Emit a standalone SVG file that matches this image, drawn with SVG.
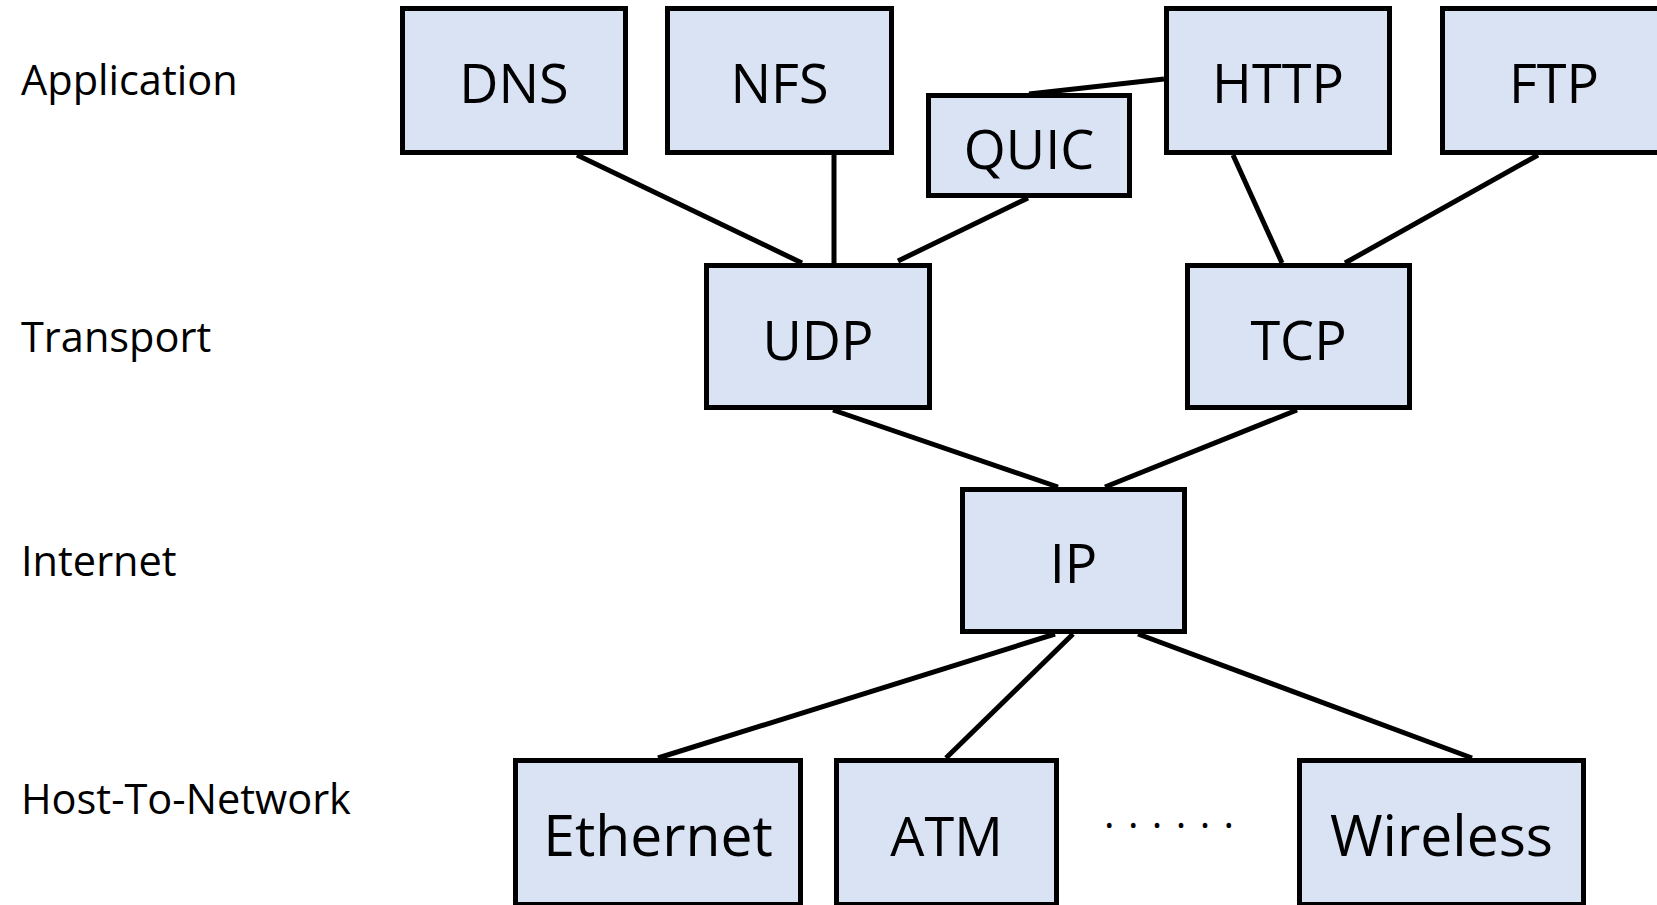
<svg xmlns="http://www.w3.org/2000/svg" width="1657" height="905" viewBox="0 0 1657 905">
<style>
.box{fill:#DAE3F3;stroke:#000;stroke-width:5}
.lbl{font-family:"Open Sans","Noto Sans",sans-serif;font-size:54px;fill:#000;text-anchor:middle}
.big{font-size:57px}
.layer{font-family:"Open Sans","Noto Sans",sans-serif;font-size:41.5px;fill:#000}
.dots{font-family:"Open Sans","Noto Sans",sans-serif;font-size:40px;fill:#000}
.conn line{stroke:#000;stroke-width:5}
</style>
<rect width="1657" height="905" fill="#fff"/>
<g id="layers">
<text class="layer" x="21" y="95">Application</text>
<text class="layer" x="21" y="352">Transport</text>
<text class="layer" x="21" y="576">Internet</text>
<text class="layer" x="21" y="814">Host-To-Network</text>
</g>
<g id="connectors" class="conn">
<line x1="577" y1="155" x2="802" y2="263"/>
<line x1="834" y1="155" x2="834" y2="263"/>
<line x1="1028" y1="198" x2="898" y2="261"/>
<line x1="1029" y1="94" x2="1164" y2="79"/>
<line x1="1233" y1="155" x2="1282" y2="263"/>
<line x1="1538" y1="155" x2="1345" y2="263"/>
<line x1="833" y1="410" x2="1058" y2="487"/>
<line x1="1297" y1="410" x2="1105" y2="487"/>
<line x1="1055" y1="634" x2="658" y2="758"/>
<line x1="1073" y1="634" x2="946" y2="758"/>
<line x1="1138" y1="634" x2="1472" y2="758"/>
</g>
<g id="dns"><rect class="box" x="402.5" y="8.5" width="223" height="144"/><text class="lbl" x="514" y="103">DNS</text></g>
<g id="nfs"><rect class="box" x="667.5" y="8.5" width="224" height="144"/><text class="lbl" x="779.5" y="103">NFS</text></g>
<g id="quic"><rect class="box" x="928.5" y="95.5" width="201" height="100"/><text class="lbl" x="1029" y="169">QUIC</text></g>
<g id="http"><rect class="box" x="1166.5" y="8.5" width="223" height="144"/><text class="lbl" x="1278" y="103">HTTP</text></g>
<g id="ftp"><rect class="box" x="1442.5" y="8.5" width="223" height="144"/><text class="lbl" x="1554" y="103">FTP</text></g>
<g id="udp"><rect class="box" x="706.5" y="265.5" width="223" height="142"/><text class="lbl" x="818" y="360">UDP</text></g>
<g id="tcp"><rect class="box" x="1187.5" y="265.5" width="222" height="142"/><text class="lbl" x="1298.5" y="360">TCP</text></g>
<g id="ip"><rect class="box" x="962.5" y="489.5" width="222" height="142"/><text class="lbl" x="1073.5" y="583">IP</text></g>
<g id="ethernet"><rect class="box" x="515.5" y="760.5" width="285" height="144"/><text class="lbl big" x="658" y="856">Ethernet</text></g>
<g id="atm"><rect class="box" x="836.5" y="760.5" width="220" height="144"/><text class="lbl" x="946.5" y="856">ATM</text></g>
<g id="dots"><text class="dots" x="1104" y="828" letter-spacing="13.4">......</text></g>
<g id="wireless"><rect class="box" x="1299.5" y="760.5" width="284" height="144"/><text class="lbl big" x="1441.5" y="856">Wireless</text></g>
</svg>
